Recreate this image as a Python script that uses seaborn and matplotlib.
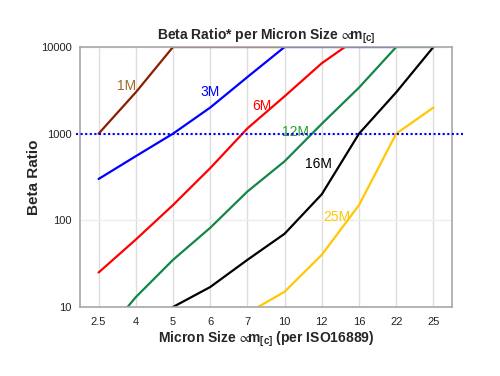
import numpy as np
import pandas as pd
import matplotlib
matplotlib.use("Agg")
import matplotlib.pyplot as plt
import seaborn as sns

categories = ["2.5", "4", "5", "6", "7", "10", "12", "16", "22", "25"]
nan = np.nan
s_1m = [1000, 3000, 10000, 10000, 10000, 10000, nan, nan, nan, nan]
s_3m = [300, 550, 1000, 2000, 4500, 10000, 10000, 10000, 10000, nan]
s_6m = [25, 60, 150, 400, 1150, 2700, 6500, 13000, nan, nan]
s_12m = [4, 13, 35, 82, 215, 480, 1300, 3400, 10000, 10000]
s_16m = [nan, 5, 10, 17, 35, 70, 200, 1000, 3000, 10000]
s_25m = [nan, nan, nan, nan, 8.5, 15, 40, 150, 1000, 2000]
series_names = ["1M", "3M", "6M", "12M", "16M", "25M"]
series_vals = [s_1m, s_3m, s_6m, s_12m, s_16m, s_25m]
yticks = [10, 100, 1000, 10000]
ref_level = 1000

line_colors = ["#8B1E00", "#0000FF", "#FF0000", "#13874A", "#000000", "#FFC800"]
label_colors = ["#A0682E", "#0000FF", "#FF0000", "#2AA02A", "#000000", "#FFC800"]
label_pos = [(0.74, 3550), (2.99, 3030), (4.39, 2090), (5.28, 1045), (5.9, 447), (6.41, 110)]

rows = []
for name, vals in zip(series_names, series_vals):
    for i, v in enumerate(vals):
        if not np.isnan(v):
            rows.append({"series": name, "pos": i, "value": v})
df = pd.DataFrame(rows)

sns.set_style("white")
plt.rcParams["font.family"] = ["Liberation Sans", "DejaVu Sans"]
plt.rcParams["mathtext.fontset"] = "custom"
plt.rcParams["mathtext.rm"] = "Liberation Sans"
plt.rcParams["mathtext.it"] = "Liberation Sans:italic"
plt.rcParams["mathtext.bf"] = "Liberation Sans:bold"
plt.rcParams["mathtext.fallback"] = "stixsans"

fig = plt.figure(figsize=(5, 3.76), dpi=100)
ax = fig.add_axes([0.16, 0.1835, 0.744, 0.6915])

sns.lineplot(data=df, x="pos", y="value", hue="series", hue_order=series_names,
             palette=dict(zip(series_names, line_colors)), sort=False,
             linewidth=1.6, legend=False, ax=ax, estimator=None)

ax.set_yscale("log")
ax.set_ylim(10, 10000)
ax.set_xlim(-0.5, len(categories) - 0.5)
ax.set_xticks(range(len(categories)))
ax.set_xticklabels(categories)
ax.set_yticks(yticks)
ax.set_yticklabels([str(t) for t in yticks])
ax.minorticks_off()
ax.tick_params(axis="both", length=0, labelsize=8, colors="#222222")
ax.tick_params(axis="y", pad=6)
ax.tick_params(axis="x", pad=7)

ax.grid(True, axis="x", color="#DDDDDD", linewidth=1)
ax.grid(True, axis="y", color="#EEEEEE", linewidth=1)
ax.set_axisbelow(True)
for sp in ax.spines.values():
    sp.set_color("#A8A8A8")
    sp.set_linewidth(1.2)

ax.plot([-0.62, 9.8], [ref_level, ref_level], color="#0000FF", linestyle=(0, (1, 1.2)),
        linewidth=1.5, clip_on=False, zorder=5)

for name, (x, y), c in zip(series_names, label_pos, label_colors):
    ax.text(x, y, name, color=c, fontsize=10, ha="center", va="center")

prop = "$\\!\\propto\\!\\!$m$_\\mathbf{[c]}$"
ax.set_title("Beta Ratio* per Micron Size " + prop, fontsize=10,
             fontweight="bold", pad=5)
ax.set_xlabel("Micron Size " + prop + " (per ISO16889)", fontsize=10,
              fontweight="bold", labelpad=2)
ax.set_ylabel("Beta Ratio", fontsize=11, fontweight="bold", labelpad=0)

fig.savefig("out.png", dpi=100)
